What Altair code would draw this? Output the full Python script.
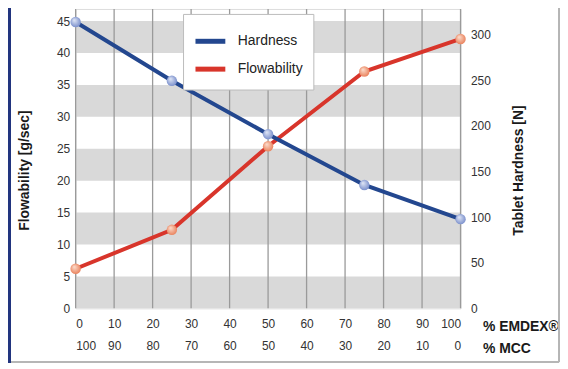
import altair as alt
import pandas as pd

# ---- data ----
emdex_pct = [0, 25, 50, 75, 100]
flowability = [6.2, 12.3, 25.4, 37.1, 42.2]        # g/sec (left axis)
hardness = [314, 249.5, 191, 135.3, 97.8]           # N (right axis)
x_ticks = [0, 10, 20, 30, 40, 50, 60, 70, 80, 90, 100]
band_lo = [0, 10, 20, 30, 40]
band_hi = [5, 15, 25, 35, 45]
left_ticks = [0, 5, 10, 15, 20, 25, 30, 35, 40, 45]
right_ticks = [0, 50, 100, 150, 200, 250, 300]

W, H = 387, 301
FONT = "Liberation Sans"
BLUE = "#23478f"
RED = "#d8352b"

flow_df = pd.DataFrame({"x": emdex_pct, "y": flowability, "series": "Flowability"})
hard_df = pd.DataFrame({"x": emdex_pct, "y": hardness, "series": "Hardness"})
band_df = pd.DataFrame({"lo": band_lo, "hi": band_hi})
tick_df = pd.DataFrame({"t": x_ticks})

xs = alt.Scale(domain=[0, 100], nice=False, zero=False)
ls = alt.Scale(domain=[0, 46.9], nice=False)
rs = alt.Scale(domain=[0, 328.3], nice=False)
color = alt.Color(
    "series:N",
    scale=alt.Scale(domain=["Hardness", "Flowability"], range=[BLUE, RED]),
    legend=alt.Legend(
        title=None, orient="none", legendX=108, legendY=5,
        symbolType="stroke", symbolSize=900, symbolStrokeWidth=5,
        labelFontSize=14, labelFont=FONT, labelColor="#222",
        strokeColor="#bbbbbb", fillColor="white", padding=10,
        rowPadding=0, labelOffset=10,
    ),
)

left_axis = alt.Axis(
    values=left_ticks, domain=False, ticks=False, grid=False, labelPadding=6,
    labelFontSize=12, labelFont=FONT, labelColor="#333",
    title="Flowability [g/sec]", titleFont=FONT, titleFontSize=14, titleFontWeight="bold",
    titleColor="#1a1a1a", titleX=-51, titleY=162, titleBaseline="middle", titleAngle=270,
)
right_axis = alt.Axis(
    orient="right", values=right_ticks, domain=False, ticks=False, grid=False, labelPadding=10,
    labelFontSize=12, labelFont=FONT, labelColor="#333",
    title="Tablet Hardness [N]", titleFont=FONT, titleFontSize=14, titleFontWeight="bold",
    titleColor="#1a1a1a", titleX=58, titleY=162, titleBaseline="middle", titleAngle=270,
)
emdex_axis = alt.Axis(
    orient="bottom", values=x_ticks, domain=False, ticks=False, grid=False, labelPadding=10,
    labelFontSize=12, labelFont=FONT, labelColor="#333",
    title="% EMDEX®", titleFont=FONT, titleFontSize=14, titleFontWeight="bold",
    titleColor="#1a1a1a", titleX=409, titleY=18, titleAlign="left", titleBaseline="middle",
)
mcc_axis = alt.Axis(
    orient="bottom", values=x_ticks, domain=False, ticks=False, grid=False, labelPadding=10, offset=22,
    labelExpr="100 - datum.value",
    labelFontSize=12, labelFont=FONT, labelColor="#333",
    title="% MCC", titleFont=FONT, titleFontSize=14, titleFontWeight="bold",
    titleColor="#1a1a1a", titleX=409, titleY=18, titleAlign="left", titleBaseline="middle",
)

bands = alt.Chart(band_df).mark_rect(color="#d9d9d9").encode(
    x=alt.value(0), x2=alt.value(W),
    y=alt.Y("lo:Q", scale=ls, axis=left_axis), y2="hi:Q",
)
vgrid = alt.Chart(tick_df).mark_rule(color="#9a9a9a", strokeWidth=1.3).encode(
    x=alt.X("t:Q", scale=xs, axis=emdex_axis),
)

flow_line = alt.Chart(flow_df).mark_line(strokeWidth=4).encode(
    x=alt.X("x:Q", scale=xs, axis=mcc_axis),
    y=alt.Y("y:Q", scale=ls, axis=None),
    color=color,
)
blue_grad = alt.RadialGradient(
    gradient="radial", x1=0.35, y1=0.3, r1=0, x2=0.5, y2=0.5, r2=0.6,
    stops=[alt.GradientStop(color="#e4eaf8", offset=0), alt.GradientStop(color="#6d84c6", offset=1)],
)
red_grad = alt.RadialGradient(
    gradient="radial", x1=0.35, y1=0.3, r1=0, x2=0.5, y2=0.5, r2=0.6,
    stops=[alt.GradientStop(color="#fde0d0", offset=0), alt.GradientStop(color="#e7774f", offset=1)],
)
flow_pts = alt.Chart(flow_df).mark_circle(size=110, opacity=1, fill=red_grad).encode(
    x=alt.X("x:Q", scale=xs, axis=None),
    y=alt.Y("y:Q", scale=ls, axis=None),
)
hard_line = alt.Chart(hard_df).mark_line(strokeWidth=4).encode(
    x=alt.X("x:Q", scale=xs, axis=None),
    y=alt.Y("y:Q", scale=rs, axis=right_axis),
    color=color,
)
hard_pts = alt.Chart(hard_df).mark_circle(size=110, opacity=1, fill=blue_grad).encode(
    x=alt.X("x:Q", scale=xs, axis=None),
    y=alt.Y("y:Q", scale=rs, axis=None),
)

frame_r = alt.Chart(tick_df).mark_rule(color="#b5b5b5", strokeWidth=1).encode(
    x=alt.value(486), y=alt.value(-8), y2=alt.value(355)
)
frame_b = alt.Chart(tick_df).mark_rule(color="#b5b5b5", strokeWidth=1).encode(
    x=alt.value(-68), x2=alt.value(486), y=alt.value(355)
)
side_bar = alt.Chart(tick_df).mark_rect(color="#22357f").encode(
    x=alt.value(-68), x2=alt.value(-65), y=alt.value(-8), y2=alt.value(356)
)

chart = (
    alt.layer(bands, vgrid, flow_line, hard_line, flow_pts, hard_pts, frame_r, frame_b, side_bar)
    .resolve_scale(y="independent")
    .resolve_axis(x="independent", y="independent")
    .properties(
        width=W, height=H,
        autosize=alt.AutoSizeParams(type="none"),
        padding={"left": 68, "top": 0, "right": 100, "bottom": 56},
    )
    .configure_view(stroke="#a0a0a0", strokeWidth=1.3)
    .configure(background="white")
)

chart.save("out.html", embed_options={"renderer": "svg", "actions": False})
